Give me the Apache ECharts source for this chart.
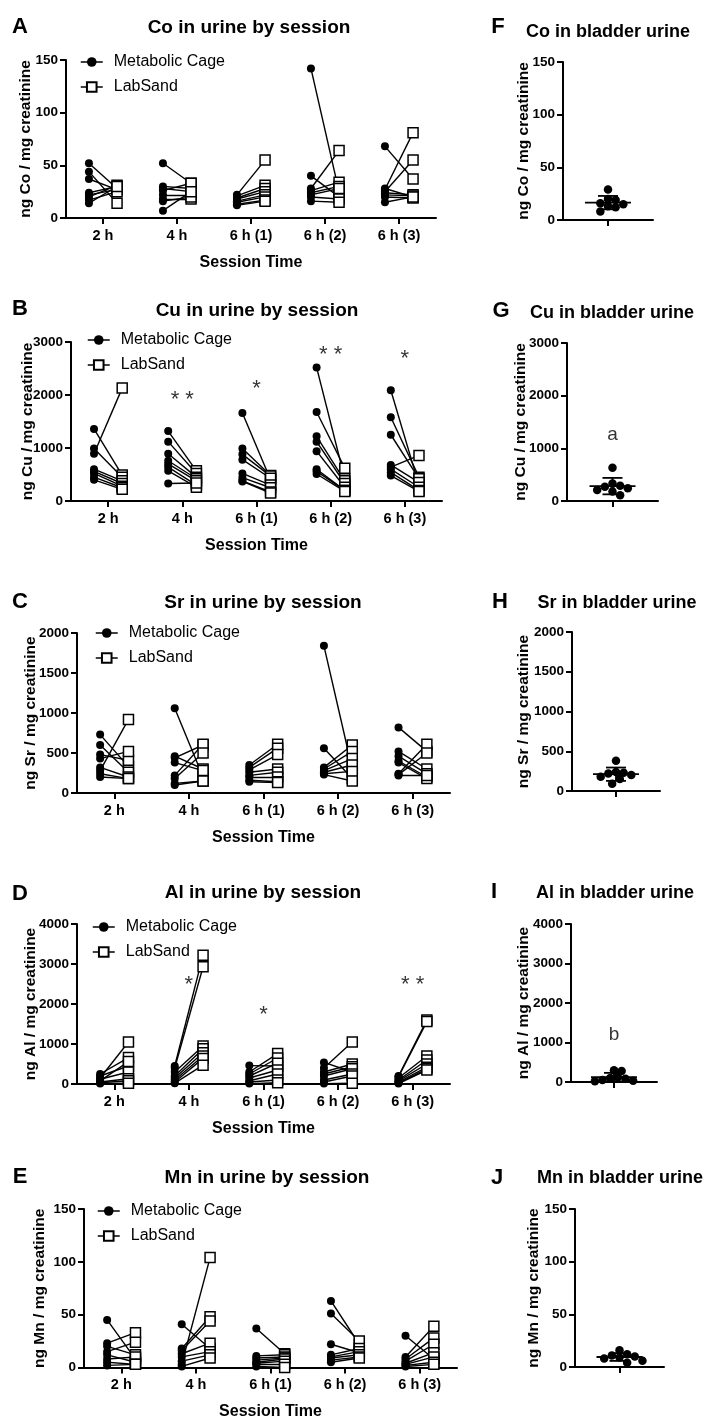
<!DOCTYPE html>
<html><head><meta charset="utf-8">
<script src="https://cdn.jsdelivr.net/npm/echarts@6/dist/echarts.min.js"></script>
<style>html,body{margin:0;padding:0;background:#fff}#c{width:712px;height:1421px}</style>
</head><body><div id="c"></div>
<script>
// ---------- DATA ----------
const sessions = ['2 h', '4 h', '6 h (1)', '6 h (2)', '6 h (3)'];
const seriesNames = ['Metabolic Cage', 'LabSand'];

// Co (ng/mg creatinine), one row per session, pairs by index
const co_metabolic = [[52,44,37,24,22,20,17,14],[52,30,28,26,22,18,16,7],[22,21,19,18,16,15,13,12],[142,40,28,26,24,22,20,16],[68,28,27,25,24,22,20,15]];
const co_labsand   = [[28,14,27,30,27,31,25,30],[33,28,25,33,22,18,20,25],[55,31,28,25,22,20,17,16],[25,20,64,34,30,28,18,15],[37,20,81,55,22,21,19,20]];
// Cu
const cu_metabolic = [[1360,990,890,600,560,520,450,400],[1320,1120,890,760,700,640,570,330],[1660,990,880,780,520,440,380,370],[2520,1680,1220,1120,940,600,560,510],[2090,1580,1250,680,640,600,540,480]];
const cu_labsand   = [[490,450,2130,380,330,280,250,220],[570,520,450,420,380,300,260,340],[400,480,470,430,300,250,170,150],[420,620,380,330,260,200,200,180],[300,450,420,350,860,260,200,180]];
// Sr
const sr_metabolic = [[730,600,480,430,320,280,240,200],[1060,460,440,380,220,180,120,100],[350,320,290,260,220,200,160,140],[1840,560,320,300,280,260,240,230],[820,520,460,400,380,240,230,220]];
const sr_labsand   = [[330,260,410,520,200,920,180,180],[200,300,600,280,610,500,150,150],[610,560,480,300,260,200,140,130],[300,180,600,520,430,350,270,150],[520,300,240,200,180,610,500,220]];
// Al
const al_metabolic = [[250,200,150,120,80,50,30,10],[450,400,300,200,150,100,50,20],[460,300,250,200,150,80,50,10],[540,400,300,250,200,100,50,10],[200,180,150,100,80,50,30,10]];
const al_labsand   = [[660,450,1050,300,560,130,80,20],[3220,2930,950,880,780,700,640,470],[450,760,650,520,350,250,100,30],[300,1050,500,430,380,250,200,20],[1600,1560,700,600,500,420,380,350]];
// Mn
const mn_metabolic = [[45,23,20,15,12,8,5,2],[41,18,16,13,10,6,3,1],[37,11,9,7,5,4,3,1],[63,51,22,12,10,9,7,5],[30,10,8,6,4,3,2,1]];
const mn_labsand   = [[8,33,12,24,5,10,3,3],[18,48,44,23,15,12,104,9],[13,12,10,9,8,6,3,0],[22,25,14,18,15,12,10,9],[8,39,28,22,14,10,5,3]];

// significance marks: [session index, height, text]
const cu_stars = [[1,2000,'**'],[2,2200,'*'],[3,2850,'**'],[4,2780,'*']];
const al_stars = [[1,2600,'*'],[2,1850,'*'],[4,2600,'**']];

// bladder urine values
const co_bladder = [29,20,19,16,15,13,12,8];
const cu_bladder = [630,330,290,270,240,210,180,110];
const sr_bladder = [380,240,230,220,200,180,150,90];
const al_bladder = [300,280,120,100,80,50,30,20];
const mn_bladder = [16,12,11,10,9,8,6,4];

// y axes
const yMax = {Co:150, Cu:3000, Sr:2000, Al:4000, Mn:150};
const yStep = {Co:50, Cu:1000, Sr:500, Al:1000, Mn:50};

// ---------- LAYOUT ----------
const FONT = '"Liberation Sans", Arial, Helvetica, sans-serif';
const OFF = 0.38; // half pair spacing in hidden-axis units (2 units per session)

const left = [
  {el:'Co', letter:'A', title:'Co in urine by session', mc:co_metabolic, ls:co_labsand, stars:null,
   grid:{left:66, top:60, width:370, height:158}, nameGap:32, letterXY:[20,27], titleXY:[249,28], legend:[75,49]},
  {el:'Cu', letter:'B', title:'Cu in urine by session', mc:cu_metabolic, ls:cu_labsand, stars:cu_stars,
   grid:{left:71, top:342, width:371, height:159}, nameGap:35, letterXY:[20,309], titleXY:[257,311], legend:[82,327]},
  {el:'Sr', letter:'C', title:'Sr in urine by session', mc:sr_metabolic, ls:sr_labsand, stars:null,
   grid:{left:77, top:633, width:373, height:160}, nameGap:38, letterXY:[20,602], titleXY:[263,603], legend:[90,620]},
  {el:'Al', letter:'D', title:'Al in urine by session', mc:al_metabolic, ls:al_labsand, stars:al_stars,
   grid:{left:77, top:924, width:373, height:160}, nameGap:38, letterXY:[20,894], titleXY:[263,893], legend:[87,914]},
  {el:'Mn', letter:'E', title:'Mn in urine by session', mc:mn_metabolic, ls:mn_labsand, stars:null,
   grid:{left:84, top:1209, width:373, height:160}, nameGap:36, letterXY:[20,1177], titleXY:[267,1178], legend:[92,1198]}
];
const right = [
  {el:'Co', letter:'F', title:'Co in bladder urine', vals:co_bladder, mark:null,
   grid:{left:563, top:62, width:90, height:158}, nameGap:31, letterXY:[498,27], titleXY:[608,32]},
  {el:'Cu', letter:'G', title:'Cu in bladder urine', vals:cu_bladder, mark:['a',1250],
   grid:{left:567, top:343, width:91, height:158}, nameGap:38, letterXY:[501,311], titleXY:[612,313]},
  {el:'Sr', letter:'H', title:'Sr in bladder urine', vals:sr_bladder, mark:null,
   grid:{left:572, top:632, width:88, height:159}, nameGap:40, letterXY:[500,602], titleXY:[617,603]},
  {el:'Al', letter:'I', title:'Al in bladder urine', vals:al_bladder, mark:['b',1200],
   grid:{left:571, top:924, width:86, height:158}, nameGap:39, letterXY:[494,892], titleXY:[615,893]},
  {el:'Mn', letter:'J', title:'Mn in bladder urine', vals:mn_bladder, mark:null,
   grid:{left:575, top:1209, width:89, height:158}, nameGap:33, letterXY:[497,1178], titleXY:[620,1178]}
];

const grids = [], xAxes = [], yAxes = [], series = [], legends = [], graphics = [];
const axisLine = {show:true, lineStyle:{color:'#000', width:2}};
const axisTick = {show:true, length:6, lineStyle:{color:'#000', width:2}};
const tickLabel = {color:'#000', fontFamily:FONT, fontWeight:'bold', fontSize:13.5};

function yAxisFor(el, gi, gap){
  return {type:'value', gridIndex:gi, min:0, max:yMax[el], interval:yStep[el],
    axisLine:axisLine, axisTick:axisTick, splitLine:{show:false},
    axisLabel:Object.assign({margin:8, formatter:v => String(v)}, tickLabel),
    name:'ng ' + el + ' / mg creatinine', nameLocation:'middle', nameGap:gap, nameRotate:90,
    nameMoveOverlap:false,
    nameTextStyle:{color:'#000', fontFamily:FONT, fontWeight:'bold', fontSize:15.5}};
}
function txt(x, y, s, size, bold){
  graphics.push({type:'text', x:x, y:y, silent:true,
    style:{text:s, fill:'#000', font:(bold?'bold ':'') + size + 'px ' + FONT, textAlign:'center', textVerticalAlign:'middle'}});
}

left.forEach((p, i) => {
  const gi = grids.length;
  grids.push(p.grid);
  xAxes.push({type:'category', gridIndex:gi, data:sessions, boundaryGap:true,
    axisLine:axisLine, axisTick:Object.assign({alignWithLabel:true}, axisTick),
    axisLabel:Object.assign({margin:10, interval:0}, tickLabel, {fontSize:14.5}),
    name:'Session Time', nameLocation:'middle', nameGap:36.5, nameMoveOverlap:false,
    nameTextStyle:{color:'#000', fontFamily:FONT, fontWeight:'bold', fontSize:16}});
  const xVal = xAxes.length;
  xAxes.push({type:'value', gridIndex:gi, min:0, max:10, show:false});
  const yi = yAxes.length;
  yAxes.push(yAxisFor(p.el, gi, p.nameGap));

  const links = [], mcPts = [], lsPts = [];
  p.mc.forEach((row, s) => {
    const cx = 2 * s + 1;
    row.forEach((v, k) => {
      const w = p.ls[s][k];
      links.push({coords:[[cx - OFF, v], [cx + OFF, w]]});
      mcPts.push([cx - OFF, v]);
      lsPts.push([cx + OFF, w]);
    });
  });
  series.push({type:'lines', coordinateSystem:'cartesian2d', xAxisIndex:xVal, yAxisIndex:yi,
    data:links, silent:true, z:2, lineStyle:{color:'#000', width:1.4, opacity:1, curveness:0}});
  series.push({type:'line', name:seriesNames[0], xAxisIndex:xVal, yAxisIndex:yi, data:mcPts,
    symbol:'circle', symbolSize:8, showAllSymbol:true, z:3,
    itemStyle:{color:'#000'}, lineStyle:{opacity:0, color:'#000', width:1.5}});
  series.push({type:'line', name:seriesNames[1], xAxisIndex:xVal, yAxisIndex:yi, data:lsPts,
    symbol:'rect', symbolSize:10, showAllSymbol:true, z:4,
    itemStyle:{color:'#fff', borderColor:'#000', borderWidth:1.5}, lineStyle:{opacity:0, color:'#000', width:1.5}});
  if (p.stars) {
    series.push({type:'scatter', xAxisIndex:xVal, yAxisIndex:yi, symbolSize:1, z:5, silent:true,
      itemStyle:{color:'rgba(0,0,0,0)'},
      data:p.stars.map(s => ({value:[2 * s[0] + 1, s[1]], name:s[2]})),
      label:{show:true, position:'inside', formatter:d => d.name.split('').join(' '),
        color:'#000', fontFamily:FONT, fontSize:22, offset:[0,5]}});
  }
  legends.push({orient:'vertical', left:p.legend[0], top:p.legend[1], data:seriesNames,
    itemWidth:22, itemHeight:12, itemGap:9, selectedMode:false,
    lineStyle:{color:'#000', width:1.5, opacity:1},
    textStyle:{color:'#000', fontFamily:FONT, fontSize:16, padding:[0,0,0,6]}});
  txt(p.letterXY[0], p.letterXY[1], p.letter, 22, true);
  txt(p.titleXY[0], p.titleXY[1], p.title, 19, true);
});

function mean(a){ return a.reduce((s, v) => s + v, 0) / a.length; }
function sd(a){ const m = mean(a); return Math.sqrt(a.reduce((s, v) => s + (v - m) * (v - m), 0) / (a.length - 1)); }
function swarm(vals, max, hpx, wpx, d){
  const order = vals.map((v, i) => i).sort((a, b) => vals[b] - vals[a]);
  const placed = [], xs = new Array(vals.length);
  order.forEach(i => {
    const y = vals[i] * hpx / max;
    for (let k = 0; k < 60; k++) {
      const off = (k % 2 ? 1 : -1) * Math.ceil(k / 2) * d * 0.45;
      if (placed.every(q => (q[0] - off) ** 2 + (q[1] - y) ** 2 >= d * d * 0.75)) {
        placed.push([off, y]); xs[i] = 1 + off / (wpx / 2); break;
      }
    }
  });
  return xs;
}

right.forEach(p => {
  const gi = grids.length;
  grids.push(p.grid);
  xAxes.push({type:'category', gridIndex:gi, data:[''], boundaryGap:true,
    axisLine:axisLine, axisTick:Object.assign({alignWithLabel:true}, axisTick), axisLabel:{show:false}});
  const xVal = xAxes.length;
  xAxes.push({type:'value', gridIndex:gi, min:0, max:2, show:false});
  const yi = yAxes.length;
  yAxes.push(yAxisFor(p.el, gi, p.nameGap));
  const xs = swarm(p.vals, yMax[p.el], p.grid.height, p.grid.width, 8.5);
  series.push({type:'scatter', xAxisIndex:xVal, yAxisIndex:yi, symbol:'circle', symbolSize:8.5, z:3, silent:true,
    itemStyle:{color:'#000', opacity:1}, data:p.vals.map((v, i) => [xs[i], v])});
  series.push({type:'custom', xAxisIndex:xVal, yAxisIndex:yi, z:4, silent:true,
    data:[[1, mean(p.vals), sd(p.vals)]],
    renderItem:(params, api) => {
      const x = api.value(0), m = api.value(1), s = api.value(2);
      const c = api.coord([x, m]), t = api.coord([x, m + s]), b = api.coord([x, m - s]);
      const st = {stroke:'#000', lineWidth:1.8};
      return {type:'group', children:[
        {type:'line', shape:{x1:c[0], y1:t[1], x2:c[0], y2:b[1]}, style:st},
        {type:'line', shape:{x1:c[0] - 10, y1:t[1], x2:c[0] + 10, y2:t[1]}, style:st},
        {type:'line', shape:{x1:c[0] - 10, y1:b[1], x2:c[0] + 10, y2:b[1]}, style:st},
        {type:'line', shape:{x1:c[0] - 23, y1:c[1], x2:c[0] + 23, y2:c[1]}, style:st}
      ]};
    }});
  if (p.mark) {
    series.push({type:'scatter', xAxisIndex:xVal, yAxisIndex:yi, symbolSize:1, z:5, silent:true,
      itemStyle:{color:'rgba(0,0,0,0)'}, data:[{value:[1, p.mark[1]], name:p.mark[0]}],
      label:{show:true, position:'inside', formatter:d => d.name, color:'#000', fontFamily:FONT, fontSize:19}});
  }
  txt(p.letterXY[0], p.letterXY[1], p.letter, 22, true);
  txt(p.titleXY[0], p.titleXY[1], p.title, 18, true);
});

const chart = echarts.init(document.getElementById('c'), null, {renderer:'canvas'});
chart.setOption({
  animation:false, backgroundColor:'#fff',
  grid:grids, xAxis:xAxes, yAxis:yAxes, series:series, legend:legends, graphic:graphics
});
</script></body></html>
